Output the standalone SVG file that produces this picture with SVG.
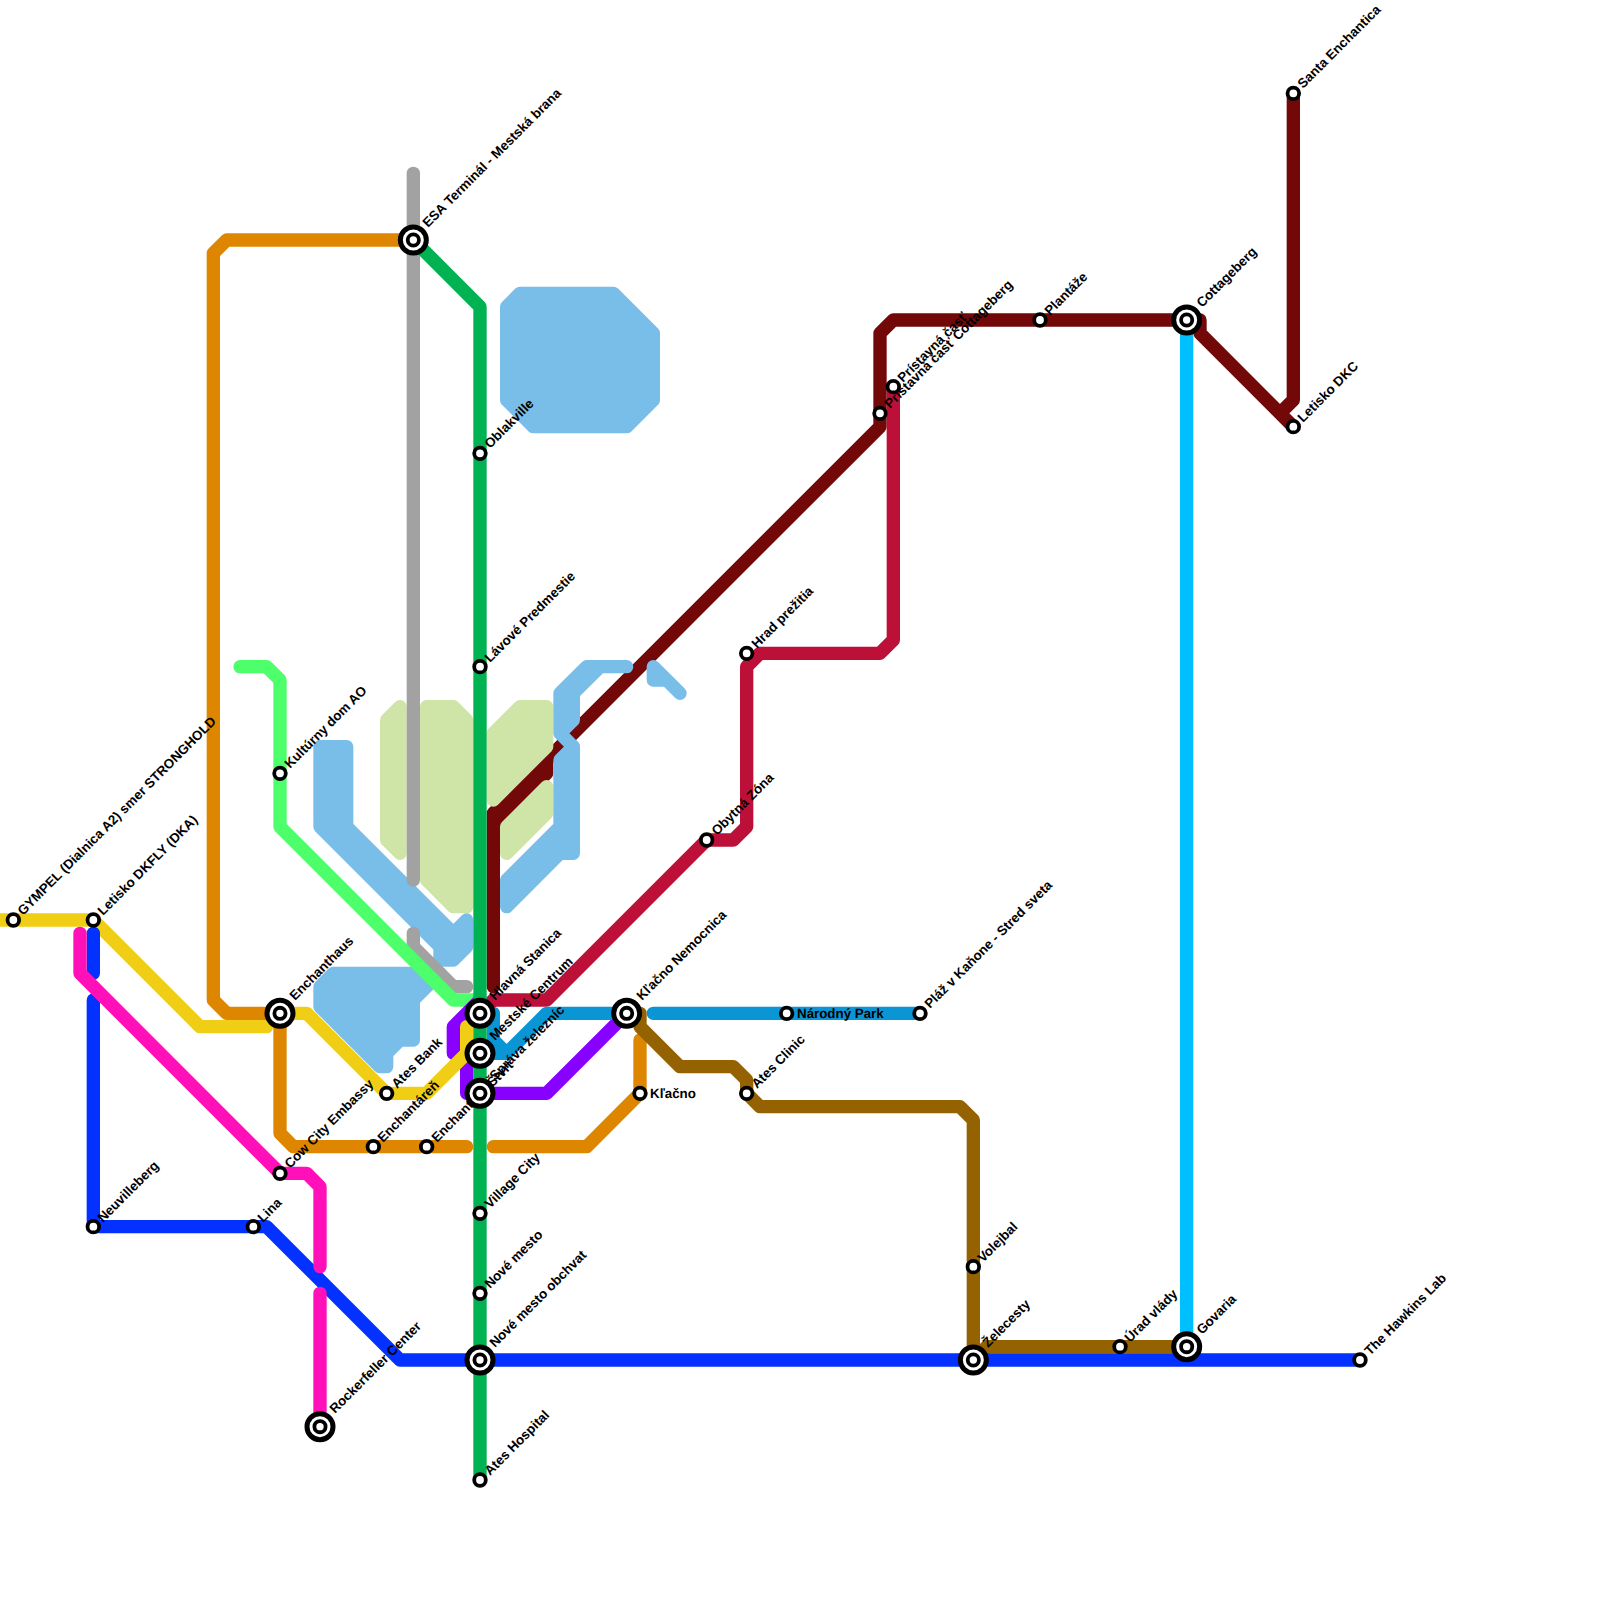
<svg xmlns="http://www.w3.org/2000/svg" width="1600" height="1600" viewBox="0 0 1600 1600">
<style>
.l{fill:none;stroke-width:1;stroke-linecap:round;stroke-linejoin:round}
.b{stroke-width:1;stroke-linejoin:round}
.sky{fill:#79bde9;stroke:#79bde9}
.pale{fill:#cfe4a7;stroke:#cfe4a7}
.t{font-family:"Liberation Sans",Arial,sans-serif;font-size:13.33px;font-weight:700;fill:#000;text-rendering:geometricPrecision}
.s{fill:#fff;stroke:#000;stroke-width:3.8}
.i{fill:#fff;stroke:#000;stroke-width:5}
</style>
<rect width="1600" height="1600" fill="#fff"/>
<g id="connectors" transform="scale(13.33333)">
<path class="l" stroke="#bd1038" d="M36 76L37 75H41L53 63H55L56 62V50L57 49H66L67 48V29"/>
<path class="l" stroke="#720808" d="M37 74V61L66 32V25L67 24H89H90V25L97 32M97 7V30L96 31M37 62L41 58V56"/>
<polygon class="b pale" points="29,54 30,53 30,64 29,63"/>
<polygon class="b pale" points="32,53 34,53 35,54 35,68 34,68 32,66"/>
<polygon class="b pale" points="39,53 41,53 41,56 37,60 37,55"/>
<polygon class="b pale" points="41,59 41,61 38,64 38,62"/>
<polygon class="b sky" points="38,23 39,22 46,22 49,25 49,30 47,32 40,32 38,30"/>
<polygon class="b sky" points="24,56 26,56 26,62 34,70 35,69 35,71 34,72 33,72 33,71 24,62"/>
<polygon class="b sky" points="24,74 25,73 33,73 31,75 31,78 30,78 29,79 29,80 28.5,80 24,75.5"/>
<polygon class="b sky" points="47,50 44,50 42,52 42,55 43,56 42,55 43,54 43,52 45,50"/>
<polygon class="b sky" points="38,68 38,66 42,62 42,57 43,56 43,64 42,64"/>
<polygon class="b sky" points="49,50 51,52 50,51 49,51"/>
<path class="l" stroke="#a2a2a2" d="M31 13V66M31 70V71L34 74H35"/>
<path class="l" stroke="#4dff6a" d="M18 50H20L21 51V62L34 75H36"/>
<path class="l" stroke="#df8600" d="M31 18H17L16 19V75L17 76H21V85L22 86H35M37 86H44L48 82V78"/>
<path class="l" stroke="#8800ff" d="M36 75L34 77V79M35 79V82H41L47 76"/>
<path class="l" stroke="#f0ce15" d="M0 69H7L15 77H20M21 76H23L29 82H32L35 79V77"/>
<path class="l" stroke="#0a95d5" d="M36 76H37V78L38 79H36M38 79L41 76H47M49 76H69"/>
<path class="l" stroke="#946200" d="M47 76H48V77L51 80H55L56 81V82L57 83H72L73 84V102L74 101H89"/>
<path class="l" stroke="#00bfff" d="M89 24V101"/>
<path class="l" stroke="#00b251" d="M31 18L36 23V111"/>
<path class="l" stroke="#0331ff" d="M7 70V73M7 75V92H20L30 102H102"/>
<path class="l" stroke="#ff10b9" d="M6 70V73L21 88H23L24 89V95M24 97V107"/>
</g>
<g id="nodes">
<g id="n-gympel"><text class="t" transform="translate(23 916) rotate(-45)">GYMPEL (Dialnica A2) smer STRONGHOLD</text><circle class="s" cx="13.33" cy="920" r="5.8"/></g>
<g id="n-letisko-dkfly"><text class="t" transform="translate(103 916) rotate(-45)">Letisko DKFLY (DKA)</text><circle class="s" cx="93.33" cy="920" r="5.8"/></g>
<g id="n-kulturny"><text class="t" transform="translate(290 769) rotate(-45)">Kultúrny dom AO</text><circle class="s" cx="280" cy="773.33" r="5.8"/></g>
<g id="n-cow"><text class="t" transform="translate(290 1169) rotate(-45)">Cow City Embassy</text><circle class="s" cx="280" cy="1173.33" r="5.8"/></g>
<g id="n-neuville"><text class="t" transform="translate(103 1223) rotate(-45)">Neuvilleberg</text><circle class="s" cx="93.33" cy="1226.67" r="5.8"/></g>
<g id="n-lina"><text class="t" transform="translate(263 1223) rotate(-45)">Lina</text><circle class="s" cx="253.33" cy="1226.67" r="5.8"/></g>
<g id="n-atesbank"><text class="t" transform="translate(397 1089) rotate(-45)">Ates Bank</text><circle class="s" cx="386.67" cy="1093.33" r="5.8"/></g>
<g id="n-enchantaren"><text class="t" transform="translate(383 1143) rotate(-45)">Enchantáreň</text><circle class="s" cx="373.33" cy="1146.67" r="5.8"/></g>
<g id="n-enchantska"><text class="t" transform="translate(437 1143) rotate(-45)">Enchantská Štvrť</text><circle class="s" cx="426.67" cy="1146.67" r="5.8"/></g>
<g id="n-oblakville"><text class="t" transform="translate(490 449) rotate(-45)">Oblakville</text><circle class="s" cx="480" cy="453.33" r="5.8"/></g>
<g id="n-lavove"><text class="t" transform="translate(490 663) rotate(-45)">Lávové Predmestie</text><circle class="s" cx="480" cy="666.67" r="5.8"/></g>
<g id="n-village"><text class="t" transform="translate(490 1209) rotate(-45)">Village City</text><circle class="s" cx="480" cy="1213.33" r="5.8"/></g>
<g id="n-nove"><text class="t" transform="translate(490 1289) rotate(-45)">Nové mesto</text><circle class="s" cx="480" cy="1293.33" r="5.8"/></g>
<g id="n-ateshosp"><text class="t" transform="translate(490 1476) rotate(-45)">Ates Hospital</text><circle class="s" cx="480" cy="1480" r="5.8"/></g>
<g id="n-klacno"><text class="t" x="650" y="1098">Kľačno</text><circle class="s" cx="640" cy="1093.33" r="5.8"/></g>
<g id="n-obytna"><text class="t" transform="translate(717 836) rotate(-45)">Obytná Zóna</text><circle class="s" cx="706.67" cy="840" r="5.8"/></g>
<g id="n-hrad"><text class="t" transform="translate(757 649) rotate(-45)">Hrad prežitia</text><circle class="s" cx="746.67" cy="653.33" r="5.8"/></g>
<g id="n-atesclinic"><text class="t" transform="translate(757 1089) rotate(-45)">Ates Clinic</text><circle class="s" cx="746.67" cy="1093.33" r="5.8"/></g>
<g id="n-narodny"><text class="t" x="797" y="1018">Národný Park</text><circle class="s" cx="786.67" cy="1013.33" r="5.8"/></g>
<g id="n-plaz"><text class="t" transform="translate(930 1009) rotate(-45)">Pláž v Kaňone - Stred sveta</text><circle class="s" cx="920" cy="1013.33" r="5.8"/></g>
<g id="n-pristavna2"><text class="t" transform="translate(890 409) rotate(-45)">Prístavná časť Cottageberg</text><circle class="s" cx="880" cy="413.33" r="5.8"/></g>
<g id="n-pristavna"><text class="t" transform="translate(903 383) rotate(-45)">Prístavná časť</text><circle class="s" cx="893.33" cy="386.67" r="5.8"/></g>
<g id="n-plantaze"><text class="t" transform="translate(1050 316) rotate(-45)">Plantáže</text><circle class="s" cx="1040" cy="320" r="5.8"/></g>
<g id="n-santa"><text class="t" transform="translate(1303 89) rotate(-45)">Santa Enchantica</text><circle class="s" cx="1293.33" cy="93.33" r="5.8"/></g>
<g id="n-letisko-dkc"><text class="t" transform="translate(1303 423) rotate(-45)">Letisko DKC</text><circle class="s" cx="1293.33" cy="426.67" r="5.8"/></g>
<g id="n-volejbal"><text class="t" transform="translate(983 1263) rotate(-45)">Volejbal</text><circle class="s" cx="973.33" cy="1266.67" r="5.8"/></g>
<g id="n-urad"><text class="t" transform="translate(1130 1343) rotate(-45)">Úrad vlády</text><circle class="s" cx="1120" cy="1346.67" r="5.8"/></g>
<g id="n-hawkins"><text class="t" transform="translate(1370 1356) rotate(-45)">The Hawkins Lab</text><circle class="s" cx="1360" cy="1360" r="5.8"/></g>
<g id="n-esa"><text class="t" transform="translate(428 228) rotate(-45)">ESA Terminál - Mestská brana</text><circle class="i" cx="413.33" cy="240" r="13"/><circle class="s" cx="413.33" cy="240" r="5.6"/></g>
<g id="n-enchanthaus"><text class="t" transform="translate(295 1001) rotate(-45)">Enchanthaus</text><circle class="i" cx="280" cy="1013.33" r="13"/><circle class="s" cx="280" cy="1013.33" r="5.6"/></g>
<g id="n-rockefeller"><text class="t" transform="translate(335 1414) rotate(-45)">Rockerfeller Center</text><circle class="i" cx="320" cy="1426.67" r="13"/><circle class="s" cx="320" cy="1426.67" r="5.6"/></g>
<g id="n-hlavna"><text class="t" transform="translate(495 1001) rotate(-45)">Hlavná Stanica</text><circle class="i" cx="480" cy="1013.33" r="13"/><circle class="s" cx="480" cy="1013.33" r="5.6"/></g>
<g id="n-mestske"><text class="t" transform="translate(495 1041) rotate(-45)">Mestské Centrum</text><circle class="i" cx="480" cy="1053.33" r="13"/><circle class="s" cx="480" cy="1053.33" r="5.6"/></g>
<g id="n-sprava"><text class="t" transform="translate(495 1081) rotate(-45)">Správa železníc</text><circle class="i" cx="480" cy="1093.33" r="13"/><circle class="s" cx="480" cy="1093.33" r="5.6"/></g>
<g id="n-obchvat"><text class="t" transform="translate(495 1348) rotate(-45)">Nové mesto obchvat</text><circle class="i" cx="480" cy="1360" r="13"/><circle class="s" cx="480" cy="1360" r="5.6"/></g>
<g id="n-nemocnica"><text class="t" transform="translate(642 1001) rotate(-45)">Kľačno Nemocnica</text><circle class="i" cx="626.67" cy="1013.33" r="13"/><circle class="s" cx="626.67" cy="1013.33" r="5.6"/></g>
<g id="n-cottageberg"><text class="t" transform="translate(1202 308) rotate(-45)">Cottageberg</text><circle class="i" cx="1186.67" cy="320" r="13"/><circle class="s" cx="1186.67" cy="320" r="5.6"/></g>
<g id="n-zelecesty"><text class="t" transform="translate(988 1348) rotate(-45)">Želecesty</text><circle class="i" cx="973.33" cy="1360" r="13"/><circle class="s" cx="973.33" cy="1360" r="5.6"/></g>
<g id="n-govaria"><text class="t" transform="translate(1202 1335) rotate(-45)">Govaria</text><circle class="i" cx="1186.67" cy="1346.67" r="13"/><circle class="s" cx="1186.67" cy="1346.67" r="5.6"/></g>
</g>
</svg>
